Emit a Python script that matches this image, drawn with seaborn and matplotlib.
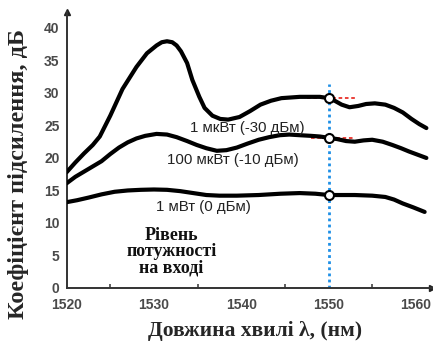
import numpy as np
import pandas as pd
import matplotlib
matplotlib.use("Agg")
import matplotlib.pyplot as plt
import seaborn as sns

# values
wl_1uw = [1520, 1521, 1522, 1523, 1523.8, 1525, 1526.4, 1528, 1529.2, 1530.3, 1530.9, 1531.5,
          1532.1, 1532.6, 1533.1, 1533.8, 1534.4, 1535.2, 1535.8, 1536.7, 1537.6, 1538.5, 1539.8,
          1541, 1542.2, 1543.4, 1544.6, 1546.7, 1549, 1550, 1550.7, 1551.5, 1552.4,
          1553.4, 1554.3, 1555.3, 1556.5, 1557.5, 1558.5, 1559.5, 1560.4, 1561.2]
gain_1uw = [17.8, 19.3, 20.7, 22.0, 23.3, 26.5, 30.6, 34.0, 36.1, 37.3, 37.8, 37.95,
            37.8, 37.3, 36.4, 34.6, 32.0, 29.4, 27.7, 26.5, 26.0, 25.9, 26.3,
            27.2, 28.2, 28.8, 29.2, 29.4, 29.4, 29.2, 28.8, 28.2, 27.8,
            28.0, 28.3, 28.4, 28.2, 27.7, 27.0, 26.0, 25.2, 24.6]

wl_100uw = [1520, 1521, 1522, 1523, 1524, 1525, 1526, 1527, 1528, 1529, 1530.3,
            1531.5, 1532.6, 1533.8, 1534.9, 1536, 1537.2, 1538.3, 1539.5, 1540.7,
            1542, 1543.2, 1544.4, 1545.5, 1546.7, 1548, 1549, 1550, 1551, 1552,
            1553, 1554, 1555, 1556.2, 1557.3, 1558.3, 1559.2, 1560.2, 1561.2]
gain_100uw = [16.1, 17.1, 17.9, 18.7, 19.5, 20.6, 21.6, 22.4, 23.0, 23.4, 23.7,
              23.6, 23.2, 22.6, 22.0, 21.5, 21.1, 21.2, 21.6, 22.2,
              22.8, 23.2, 23.5, 23.6, 23.5, 23.4, 23.3, 23.1, 22.9, 22.6,
              22.5, 22.7, 22.8, 22.5, 22.0, 21.5, 21.0, 20.5, 20.0]

wl_1mw = [1520, 1521.2, 1522.5, 1524, 1525.5, 1527, 1528.5, 1530, 1531.5, 1533,
          1534.5, 1536, 1537.5, 1539.5, 1542, 1544.5, 1546.7, 1548.5, 1550, 1551.5,
          1553, 1555, 1556.5, 1557.5, 1558.5, 1559.7, 1561]
gain_1mw = [13.2, 13.5, 13.9, 14.4, 14.8, 15.0, 15.1, 15.15, 15.1, 14.9,
            14.6, 14.3, 14.2, 14.2, 14.3, 14.5, 14.6, 14.5, 14.3, 14.3,
            14.3, 14.2, 14.0, 13.6, 13.0, 12.4, 11.7]

labels = ["1 мкВт (-30 дБм)", "100 мкВт (-10 дБм)", "1 мВт (0 дБм)"]
marker_wl = 1550
marker_gain = [29.2, 23.1, 14.3]
# red dashed reference segments: start, end, level
red_start = [1547.5, 1548.0, 1550.5]
red_end = [1553.0, 1553.0, 1553.0]

df = pd.concat([
    pd.DataFrame({"wl": wl_1uw, "gain": gain_1uw, "level": labels[0]}),
    pd.DataFrame({"wl": wl_100uw, "gain": gain_100uw, "level": labels[1]}),
    pd.DataFrame({"wl": wl_1mw, "gain": gain_1mw, "level": labels[2]}),
])

sns.set_style("white")
fig = plt.figure(figsize=(4.33, 3.49), dpi=100)
ax = fig.add_axes([0.1538, 0.1748, 0.843, 0.791])

# red dashed marks sit under the curves
for s, e, g in zip(red_start, red_end, marker_gain):
    ax.plot([s, e], [g, g], color="#e8302a", lw=1.3, ls=(0, (2, 1.5)), zorder=1)

# blue dotted line at 1550 nm
ax.plot([marker_wl, marker_wl], [0, 31.3], color="#1e8fe6", lw=2, ls=(0, (1, 1.2)), zorder=2)

sns.lineplot(data=df, x="wl", y="gain", units="level", estimator=None,
             color="black", lw=3, sort=False, ax=ax, zorder=3, legend=False,
             solid_joinstyle="round", solid_capstyle="round")

ax.scatter([marker_wl] * 3, marker_gain, s=42, facecolor="white", edgecolor="black",
           linewidth=1.5, zorder=4)

# curve labels
ax.text(1540.7, 24.6, labels[0], ha="center", va="center", fontsize=10.8,
        family="Liberation Sans", color="#222222")
ax.text(1539.0, 19.7, labels[1], ha="center", va="center", fontsize=10.8,
        family="Liberation Sans", color="#222222")
ax.text(1535.7, 12.4, labels[2], ha="center", va="center", fontsize=10.8,
        family="Liberation Sans", color="#222222")
ax.text(1532.0, 5.6, "Рівень\nпотужності\nна вході", ha="center", va="center",
        fontsize=13, family="Liberation Serif", fontweight="bold",
        linespacing=0.95, color="#111111")

ax.set_xlim(1520, 1561.8)
ax.set_ylim(0, 42.46)
ax.set_xticks([1520, 1530, 1540, 1550, 1560])
ax.set_xticks([1525, 1535, 1545, 1555], minor=True)
ax.set_yticks(range(0, 41, 5))
ax.tick_params(axis="both", which="major", direction="in", length=4, width=1.2,
               color="#444444", labelsize=10, labelcolor="#4a4a4a")
ax.tick_params(axis="x", which="major", pad=7)
ax.tick_params(axis="y", which="major", pad=5)
ax.tick_params(axis="x", which="minor", direction="in", length=3, width=1.2,
               color="#444444", bottom=True)
for lab in ax.get_xticklabels() + ax.get_yticklabels():
    lab.set_fontweight("bold")
    lab.set_family("Liberation Sans")

for side in ["top", "right"]:
    ax.spines[side].set_visible(False)
for side in ["left", "bottom"]:
    ax.spines[side].set_color("#333333")
    ax.spines[side].set_linewidth(1.4)
ax.plot(0, 1, marker="^", color="#222222", ms=5, transform=ax.transAxes, clip_on=False)
ax.plot(1, 0, marker=">", color="#222222", ms=5, transform=ax.transAxes, clip_on=False)

ax.set_xlabel("")
ax.set_ylabel("")
fig.text(0.589, 0.052, "Довжина хвилі λ, (нм)", ha="center", va="center", fontsize=15.5,
         family="Liberation Serif", fontweight="bold")
fig.text(0.042, 0.502, "Коефіцієнт підсилення, дБ", ha="center", va="center", rotation=90,
         fontsize=17.5, family="Liberation Serif", fontweight="bold")

fig.savefig("out.png", dpi=100)
